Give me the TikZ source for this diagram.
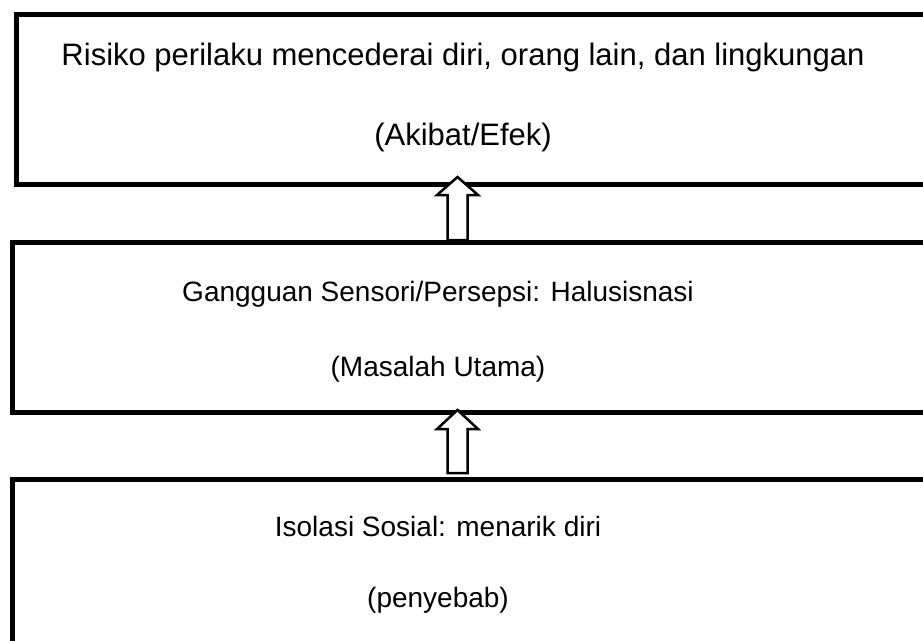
\documentclass[tikz,border=0pt]{standalone}
\usepackage{fontspec}
\setmainfont{Liberation Sans}
\begin{document}
\begin{tikzpicture}[x=1pt,y=-1pt,
  boxshape/.style={draw=black, line width=5pt, fill=white, rectangle, inner sep=0pt, anchor=north west},
  bigtext/.style={anchor=base, inner sep=0pt, font=\fontsize{31}{37}\selectfont},
  midtext/.style={anchor=base, inner sep=0pt, font=\fontsize{28}{33}\selectfont},
  blockarrow/.style={draw=black, line width=2.5pt, fill=white, line join=miter}]
\useasboundingbox (0,0) rectangle (923,640);
\clip (0,0) rectangle (923,640);
\fill[white] (0,0) rectangle (923,640);
% boxes
\node[boxshape, minimum width=960pt, minimum height=170.5pt] (b1) at (14,11.5) {};
\node[boxshape, minimum width=960pt, minimum height=170pt] (b2) at (9.5,240) {};
\node[boxshape, minimum width=960pt, minimum height=220pt] (b3) at (9.5,477) {};
% texts
\node[bigtext] (t1a) at (463,65) {Risiko perilaku mencederai diri, orang lain, dan lingkungan};
\node[bigtext] (t1b) at (463,145) {(Akibat/Efek)};
\node[midtext] (t2a) at (438,301) {Gangguan Sensori/Persepsi: Halusisnasi};
\node[midtext] (t2b) at (438,376) {(Masalah Utama)};
\node[midtext] (t3a) at (438,536) {Isolasi Sosial: menarik diri};
\node[midtext] (t3b) at (438,607) {(penyebab)};
% block arrows
\coordinate (a1tip) at (457.5,177);
\coordinate (a1base) at (457.5,240);
\draw[blockarrow] (a1tip) -- ++(20.5,18) -- ++(-10.5,0) |- (a1base) -- ++(-10,0) -- ++(0,-45) -- ++(-10.5,0) -- cycle;
\coordinate (a2tip) at (457.5,410);
\coordinate (a2base) at (457.5,473);
\draw[blockarrow] (a2tip) -- ++(20.5,19) -- ++(-10.5,0) |- (a2base) -- ++(-10,0) -- ++(0,-44) -- ++(-10.5,0) -- cycle;
\end{tikzpicture}
\end{document}
